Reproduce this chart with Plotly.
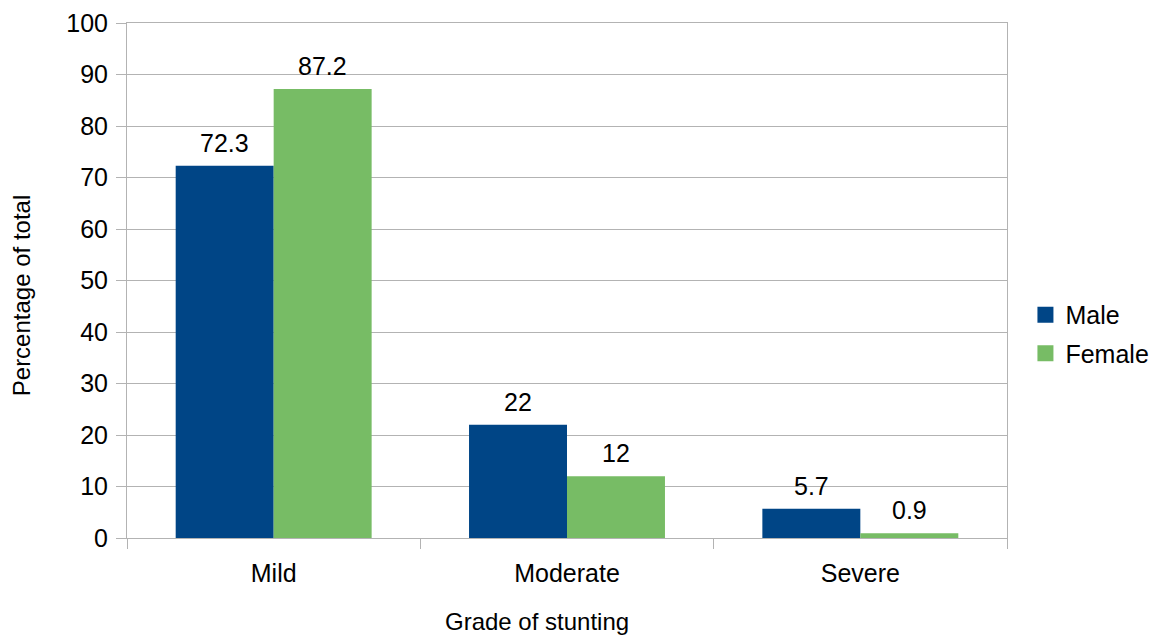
import plotly.graph_objects as go

# Grade of stunting by sex (percentage of total)
categories = ["Mild", "Moderate", "Severe"]
male = [72.3, 22, 5.7]
female = [87.2, 12, 0.9]
series_names = ["Male", "Female"]
colors = ["#004586", "#77BC65"]
y_ticks = list(range(0, 101, 10))

FONT = "Liberation Sans, Arial, sans-serif"
GRID = "#b3b3b3"

fig = go.Figure()
for i, (name, vals, col) in enumerate(zip(series_names, [male, female], colors)):
    fig.add_trace(go.Bar(
        x=categories, y=vals, name=name, offsetgroup=str(i),
        marker=dict(color=col, line=dict(width=0)),
        showlegend=False,
    ))
    # square swatch for the legend
    fig.add_trace(go.Scatter(
        x=[None], y=[None], mode="markers", name=name, legendgroup=name,
        marker=dict(symbol="square", size=16, color=col),
        showlegend=True,
    ))

# value labels above each bar, offset to the left/right half of the group
for i, vals in enumerate([male, female]):
    for cat_idx, v in enumerate(vals):
        fig.add_annotation(
            x=cat_idx + (-0.167 if i == 0 else 0.167), y=v,
            xref="x", yref="y", text=f"{v:g}", showarrow=False,
            yanchor="bottom", yshift=7,
            font=dict(family=FONT, size=25, color="#000000"),
        )

# axis titles
fig.add_annotation(
    x=0.466, y=-0.163, xref="paper", yref="paper", text="Grade of stunting",
    showarrow=False, xanchor="center", yanchor="middle",
    font=dict(family=FONT, size=24, color="#000000"),
)
fig.add_annotation(
    x=-0.119, y=0.470, xref="paper", yref="paper", text="Percentage of total",
    showarrow=False, xanchor="center", yanchor="middle", textangle=-90,
    font=dict(family=FONT, size=24, color="#000000"),
)

fig.update_layout(
    width=1160, height=636,
    margin=dict(l=127, r=153, t=23, b=98, autoexpand=False),
    paper_bgcolor="white", plot_bgcolor="white",
    barmode="group", bargap=0.332, bargroupgap=0,
    font=dict(family=FONT, size=24, color="#000000"),
    legend=dict(
        xref="container", yref="container",
        x=0.884, xanchor="left", y=0.475, yanchor="middle",
        font=dict(family=FONT, size=25), itemsizing="trace",
        tracegroupgap=3, bgcolor="rgba(0,0,0,0)",
    ),
)

fig.update_xaxes(
    type="category", automargin=False,
    tickfont=dict(family=FONT, size=25), ticklabelstandoff=13,
    showline=True, linecolor=GRID, linewidth=1, mirror=True,
    ticks="outside", tickson="boundaries", ticklen=10, tickcolor=GRID,
    showgrid=False,
)
fig.update_yaxes(
    range=[0, 100], tickvals=y_ticks, automargin=False,
    tickfont=dict(family=FONT, size=25), ticklabelstandoff=3,
    showline=True, linecolor=GRID, linewidth=1, mirror=True,
    ticks="outside", ticklen=10, tickcolor=GRID,
    showgrid=True, gridcolor=GRID, gridwidth=1,
    zeroline=False,
)

fig.write_html("out.html")
